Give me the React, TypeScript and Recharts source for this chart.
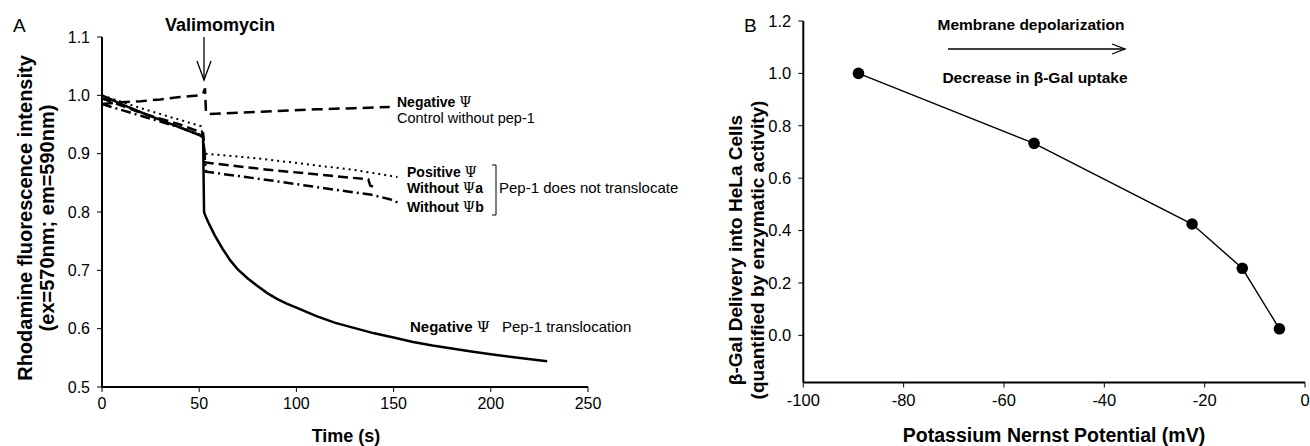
import { LineChart, Line, XAxis, YAxis } from "recharts";

const FONT = "'Liberation Sans', Arial, sans-serif";
const NARROW = "'Liberation Sans Narrow', 'Liberation Sans', Arial, sans-serif";
const PSI_FONT = "'DejaVu Serif', 'Liberation Serif', serif";

// panel A: rhodamine fluorescence vs time
const timeTicks = [0, 50, 100, 150, 200, 250];
const intensityTicks = [0.5, 0.6, 0.7, 0.8, 0.9, 1.0, 1.1];

const negPep1 = [
  { t: 0, v: 1.0 }, { t: 10, v: 0.985 }, { t: 20, v: 0.971 }, { t: 30, v: 0.958 },
  { t: 40, v: 0.945 }, { t: 50, v: 0.932 }, { t: 52, v: 0.928 }, { t: 52.5, v: 0.8 },
  { t: 53, v: 0.795 }, { t: 55, v: 0.78 }, { t: 58, v: 0.76 }, { t: 62, v: 0.737 },
  { t: 66, v: 0.717 }, { t: 70, v: 0.701 }, { t: 75, v: 0.686 }, { t: 80, v: 0.673 },
  { t: 85, v: 0.661 }, { t: 90, v: 0.651 }, { t: 95, v: 0.643 }, { t: 100, v: 0.636 },
  { t: 110, v: 0.622 }, { t: 120, v: 0.61 }, { t: 131, v: 0.6 }, { t: 140, v: 0.592 },
  { t: 150, v: 0.585 }, { t: 160, v: 0.577 }, { t: 170, v: 0.571 }, { t: 180, v: 0.566 },
  { t: 190, v: 0.561 }, { t: 200, v: 0.556 }, { t: 214, v: 0.55 }, { t: 229, v: 0.544 },
];

const controlNoPep = [
  { t: 0, v: 0.985 }, { t: 10, v: 0.988 }, { t: 20, v: 0.99 }, { t: 30, v: 0.993 },
  { t: 40, v: 0.997 }, { t: 50, v: 1.0 }, { t: 52, v: 1.003 }, { t: 53, v: 1.012 },
  { t: 53.5, v: 0.97 }, { t: 55, v: 0.968 }, { t: 70, v: 0.97 }, { t: 90, v: 0.973 },
  { t: 110, v: 0.976 }, { t: 130, v: 0.978 }, { t: 148, v: 0.98 },
];

const positivePsi = [
  { t: 0, v: 1.0 }, { t: 20, v: 0.978 }, { t: 40, v: 0.958 }, { t: 51, v: 0.947 },
  { t: 53, v: 0.9 }, { t: 80, v: 0.892 }, { t: 110, v: 0.88 }, { t: 130, v: 0.872 },
  { t: 152, v: 0.86 },
];

const withoutPsiA = [
  { t: 0, v: 0.995 }, { t: 20, v: 0.97 }, { t: 40, v: 0.95 }, { t: 52, v: 0.935 },
  { t: 53, v: 0.885 }, { t: 84, v: 0.873 }, { t: 118, v: 0.862 }, { t: 137, v: 0.856 },
  { t: 138, v: 0.845 }, { t: 140, v: 0.843 },
];

const withoutPsiB = [
  { t: 0, v: 0.985 }, { t: 20, v: 0.965 }, { t: 40, v: 0.945 }, { t: 52, v: 0.93 },
  { t: 53.5, v: 0.869 }, { t: 85, v: 0.855 }, { t: 118, v: 0.839 }, { t: 138, v: 0.83 },
  { t: 148, v: 0.822 }, { t: 153, v: 0.815 },
];

// panel B: beta-gal delivery vs K+ Nernst potential
const nernstTicks = [-100, -80, -60, -40, -20, 0];
const deliveryTicks = [0, 0.2, 0.4, 0.6, 0.8, 1.0, 1.2];
const nernstPoints = [
  { mv: -89, gal: 1.0 },
  { mv: -54, gal: 0.733 },
  { mv: -22.5, gal: 0.425 },
  { mv: -12.5, gal: 0.256 },
  { mv: -5.1, gal: 0.025 },
];

const axisProps = {
  axisLine: { stroke: "#000", strokeWidth: 2 },
  tickLine: { stroke: "#000", strokeWidth: 1 },
  tickSize: 5,
};

// bold label followed by a thin serif psi, like the original figure
function PsiLabel({ x, y, text, suffix = "", size = 14, family = FONT }: { x: number; y: number; text: string; suffix?: string; size?: number; family?: string }) {
  return (
    <text x={x} y={y} fontSize={size} fontWeight="bold" fontFamily={family}>
      {text}
      <tspan fontFamily={PSI_FONT} fontWeight="normal">Ψ</tspan>
      {suffix}
    </text>
  );
}

export default function App() {
  return (
    <div style={{ position: "absolute", left: 0, top: 0, width: 1310, height: 446, background: "#fff" }}>
      <div style={{ position: "absolute", left: 0, top: 0 }}>
        <LineChart width={700} height={446} margin={{ top: 37, right: 112, bottom: 0, left: 0 }}>
          <XAxis
            type="number"
            dataKey="t"
            domain={[0, 250]}
            ticks={timeTicks}
            interval={0}
            height={59}
            tickMargin={6}
            tick={{ fill: "#000", fontSize: 16, fontFamily: FONT }}
            {...axisProps}
          />
          <YAxis
            type="number"
            dataKey="v"
            domain={[0.5, 1.1]}
            ticks={intensityTicks}
            interval={0}
            width={102}
            tickMargin={7}
            tickFormatter={(v: number) => v.toFixed(1)}
            tick={{ fill: "#000", fontSize: 16, fontFamily: FONT }}
            {...axisProps}
          />
          <Line data={controlNoPep} dataKey="v" stroke="#000" strokeWidth={2.5} strokeDasharray="11 6" dot={false} isAnimationActive={false} type="linear" />
          <Line data={positivePsi} dataKey="v" stroke="#000" strokeWidth={2} strokeDasharray="2 4" dot={false} isAnimationActive={false} type="linear" />
          <Line data={withoutPsiA} dataKey="v" stroke="#000" strokeWidth={2.5} strokeDasharray="10 5" dot={false} isAnimationActive={false} type="linear" />
          <Line data={withoutPsiB} dataKey="v" stroke="#000" strokeWidth={2.5} strokeDasharray="10 4 2 4" dot={false} isAnimationActive={false} type="linear" />
          <Line data={negPep1} dataKey="v" stroke="#000" strokeWidth={2.5} dot={false} isAnimationActive={false} type="linear" />
        </LineChart>
      </div>

      <div style={{ position: "absolute", left: 700, top: 0 }}>
        <LineChart width={610} height={446} data={nernstPoints} margin={{ top: 21, right: 5, bottom: 0, left: 0 }}>
          <XAxis
            type="number"
            dataKey="mv"
            domain={[-100, 0]}
            ticks={nernstTicks}
            interval={0}
            height={63.5}
            tickMargin={7}
            tick={{ fill: "#000", fontSize: 16.5, fontFamily: FONT }}
            {...axisProps}
          />
          <YAxis
            type="number"
            dataKey="gal"
            domain={[-0.18, 1.2]}
            ticks={deliveryTicks}
            interval={0}
            width={103.3}
            tickMargin={7}
            tickFormatter={(v: number) => v.toFixed(1)}
            tick={{ fill: "#000", fontSize: 16.5, fontFamily: FONT }}
            {...axisProps}
          />
          <Line
            dataKey="gal"
            stroke="#000"
            strokeWidth={1.4}
            type="linear"
            dot={{ r: 5.8, fill: "#000", stroke: "#000", strokeWidth: 0 }}
            isAnimationActive={false}
          />
        </LineChart>
      </div>

      {/* annotations */}
      <svg width={1310} height={446} style={{ position: "absolute", left: 0, top: 0, pointerEvents: "none" }}>
        <g fontFamily={FONT} fill="#000">
          <text x={13} y={32} fontSize={19}>A</text>
          <text x={220} y={31} fontSize={18} fontWeight="bold" textAnchor="middle">Valimomycin</text>
          <line x1={204} y1={37} x2={204} y2={80} stroke="#000" strokeWidth={1.3} />
          <polyline points="197,61 204,80 211,61" fill="none" stroke="#000" strokeWidth={1.3} />

          <g transform="translate(25,218) rotate(-90)">
            <text x={0} y={7} fontSize={20} fontWeight="bold" textAnchor="middle">Rhodamine fluorescence intensity</text>
          </g>
          <g transform="translate(47,218) rotate(-90)">
            <text x={0} y={7} fontSize={20} fontWeight="bold" textAnchor="middle">(ex=570nm; em=590nm)</text>
          </g>
          <text x={346} y={442} fontSize={18} fontWeight="bold" fontFamily={NARROW} textAnchor="middle">Time (s)</text>

          <PsiLabel x={397} y={107} text="Negative " />
          <text x={397} y={123} fontSize={14.5}>Control without pep-1</text>
          <PsiLabel x={407} y={177} text="Positive " />
          <PsiLabel x={407} y={193} text="Without " suffix="a" />
          <PsiLabel x={407} y={212} text="Without " suffix="b" />
          <polyline points="492,165 496,165 496,215 492,215" fill="none" stroke="#000" strokeWidth={1} />
          <text x={499} y={193} fontSize={15}>Pep-1 does not translocate</text>
          <PsiLabel x={410} y={332} text="Negative " size={15} family={NARROW} />
          <text x={502} y={332} fontSize={15} fontFamily={NARROW}>Pep-1 translocation</text>

          <text x={744} y={32} fontSize={19}>B</text>
          <g transform="translate(735,250) rotate(-90)">
            <text x={0} y={7} fontSize={19} fontWeight="bold" textAnchor="middle">β-Gal Delivery into HeLa Cells</text>
          </g>
          <g transform="translate(757,250) rotate(-90)">
            <text x={0} y={7} fontSize={19} fontWeight="bold" textAnchor="middle">(quantified by enzymatic activity)</text>
          </g>
          <text x={1054} y={442} fontSize={19.5} fontWeight="bold" textAnchor="middle">Potassium Nernst Potential (mV)</text>

          <text x={1031} y={30} fontSize={15.5} fontWeight="bold" textAnchor="middle">Membrane depolarization</text>
          <line x1={948} y1={49} x2={1125} y2={49} stroke="#000" strokeWidth={1.3} />
          <polyline points="1112,44 1125,49 1112,54" fill="none" stroke="#000" strokeWidth={1.3} />
          <text x={1035} y={83} fontSize={15.5} fontWeight="bold" textAnchor="middle">Decrease in β-Gal uptake</text>
        </g>
      </svg>
    </div>
  );
}
